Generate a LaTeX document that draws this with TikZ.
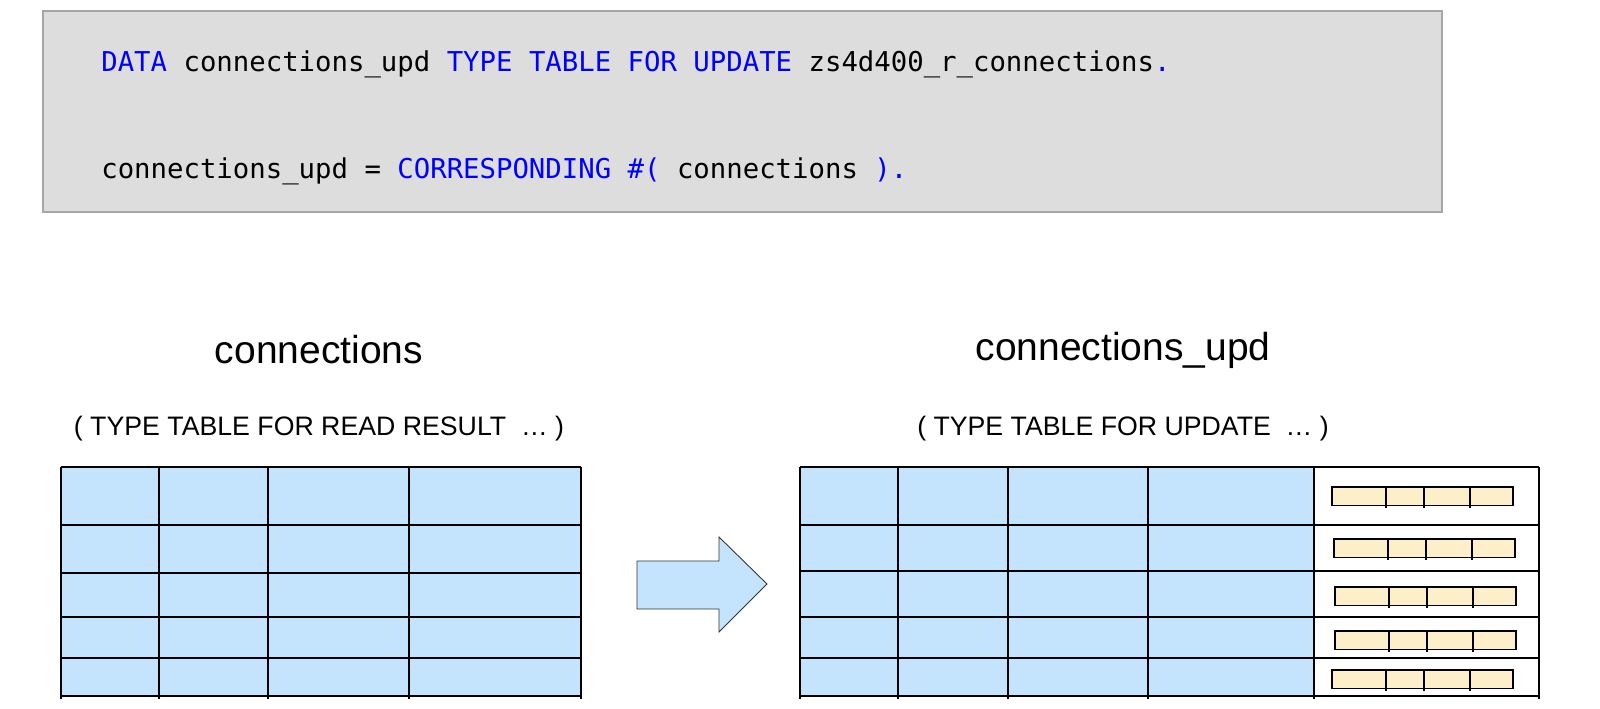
\documentclass[tikz,border=0pt]{standalone}
\usepackage{fontspec}
\setmainfont{Liberation Sans}
\setmonofont{DejaVu Sans Mono}
\usetikzlibrary{arrows}

\definecolor{cellblue}{RGB}{195,228,252}
\definecolor{celltan}{RGB}{253,239,201}
\definecolor{codegray}{RGB}{221,221,221}
\definecolor{codeframe}{RGB}{166,166,166}
\definecolor{kwblue}{RGB}{0,0,255}
\newcommand{\kw}[1]{\textcolor{kwblue}{#1}}

\begin{document}
\begin{tikzpicture}[x=0.02cm,y=-0.02cm,node distance=1.58cm,
  codeline/.style={anchor=base west,inner sep=0pt,font=\ttfamily\fontsize{15.55}{18}\selectfont},
  heading/.style={inner sep=0pt,font=\fontsize{22.2}{26}\selectfont},
  subhead/.style={inner sep=0pt,font=\fontsize{15.2}{18}\selectfont},
  tabline/.style={draw=black,line width=0.7pt},
  barline/.style={draw=black,line width=0.6pt}]
\useasboundingbox (0,0) rectangle (1600,708);

% code box
\draw[fill=codegray,draw=codeframe,line width=0.9pt] (43,11) rectangle (1442,212);
\node[codeline] (decl) at (101,71)
  {\kw{DATA} connections\_upd \kw{TYPE TABLE FOR UPDATE} zs4d400\_r\_connections\kw{.}};
\node[codeline] (assign) at (101,178)
  {connections\_upd = \kw{CORRESPONDING \#(} connections \kw{).}};

% titles
\node[heading] (srcname) at (319,350)  {connections};
\node[heading] (updname) at (1123,350) {connections\_upd};
\node[subhead] (srctype) [below of=srcname] {( TYPE TABLE FOR READ RESULT \ … )};
\node[subhead] (updtype) [below of=updname] {( TYPE TABLE FOR UPDATE \ … )};

% source table
\fill[cellblue] (61,467) rectangle (581,696);
\foreach \x in {61,159,268,409,581}
  \draw[tabline] (\x,467) -- (\x,699);
\foreach \y in {467,525,573,617,658,696}
  \draw[tabline] (61,\y) -- (581,\y);

% target table
\fill[cellblue] (800,467) rectangle (1314,696);
\foreach \x in {800,898,1008,1148,1314,1539}
  \draw[tabline] (\x,467) -- (\x,699);
\foreach \y in {467,525,571,617,658,696}
  \draw[tabline] (800,\y) -- (1539,\y);

% nested rows
\foreach \l/\t in {1332/487,1334/539,1335/587,1335/631,1332/670} {
  \draw[barline,fill=celltan] (\l,\t) rectangle ++(181,18.5);
  \foreach \d in {54,92,138}
    \draw[barline] (\l+\d,\t) -- ++(0,21);
}

% arrow
\draw[fill=cellblue,draw=black!80,line width=0.5pt]
  (637,561) -- (719,561) -- (719,537) -- (767,584) -- (719,632) -- (719,609) -- (637,609) -- cycle;
\end{tikzpicture}
\end{document}
